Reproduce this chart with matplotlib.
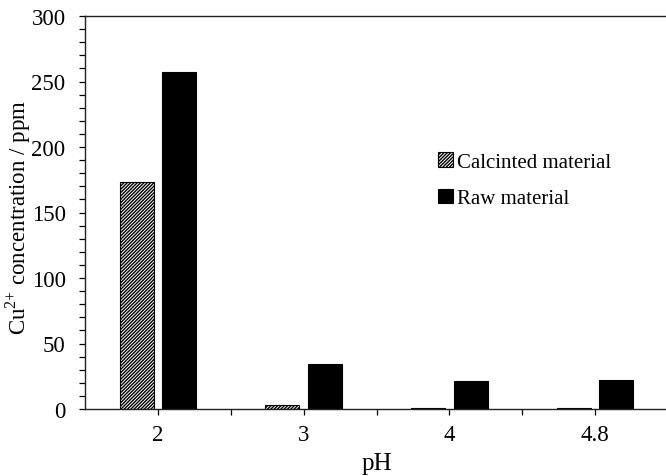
import matplotlib
matplotlib.use("Agg")
import matplotlib.pyplot as plt
import numpy as np
from matplotlib.ticker import MultipleLocator, FixedLocator

plt.rcParams['font.family'] = ['Liberation Serif', 'DejaVu Serif']
plt.rcParams['mathtext.fontset'] = 'custom'
plt.rcParams['mathtext.rm'] = 'Liberation Serif'
plt.rcParams['hatch.linewidth'] = 1.0

categories = ['2', '3', '4', '4.8']
calcined = [173, 3, 1, 1]
raw = [257, 34, 21, 22]
series_names = ['Calcinted material', 'Raw material']

fig = plt.figure(figsize=(6.66, 4.77), dpi=100)
ax = fig.add_axes([85/666, 1 - 410/477, 583/666, (410 - 17)/477])

x = np.arange(len(categories))
w = 0.233
off = 0.146
ax.bar(x - off, calcined, w, color='white', edgecolor='black', hatch='//////////',
       linewidth=0.8, label=series_names[0])
ax.bar(x + off, raw, w, color='black', edgecolor='black', linewidth=0.8,
       label=series_names[1])

ax.set_xlim(-0.5, len(categories) - 0.5)
ax.set_ylim(0, 300)
ax.set_xticks(x)
ax.set_xticklabels(categories)
ax.xaxis.set_minor_locator(FixedLocator(np.arange(0.5, len(categories) - 0.4, 1)))
ax.yaxis.set_major_locator(MultipleLocator(50))
ax.yaxis.set_minor_locator(MultipleLocator(10))
ax.tick_params(axis='both', which='both', direction='out', labelsize=16.5, width=0.9)
ax.tick_params(axis='both', which='major', length=4)
ax.tick_params(axis='both', which='minor', length=4)
ax.tick_params(axis='x', pad=7)
ax.tick_params(axis='y', pad=10)

for s in ['left', 'bottom', 'top']:
    ax.spines[s].set_linewidth(1.0)
    ax.spines[s].set_color('#222222')
ax.spines['right'].set_visible(False)

ax.set_xlabel('pH', fontsize=18, labelpad=5)
ax.set_ylabel('Cu$^{\\text{2+}}$ concentration / ppm', fontsize=16.5)
ax.yaxis.set_label_coords(-0.089, 0.49)

leg = ax.legend(loc='upper left', bbox_to_anchor=(430/666, 1 - 145/477),
                bbox_transform=fig.transFigure, frameon=False, fontsize=15,
                handlelength=0.7, handleheight=0.7, handletextpad=0.2,
                labelspacing=0.8, borderaxespad=0)

fig.savefig('out.png', dpi=100)
